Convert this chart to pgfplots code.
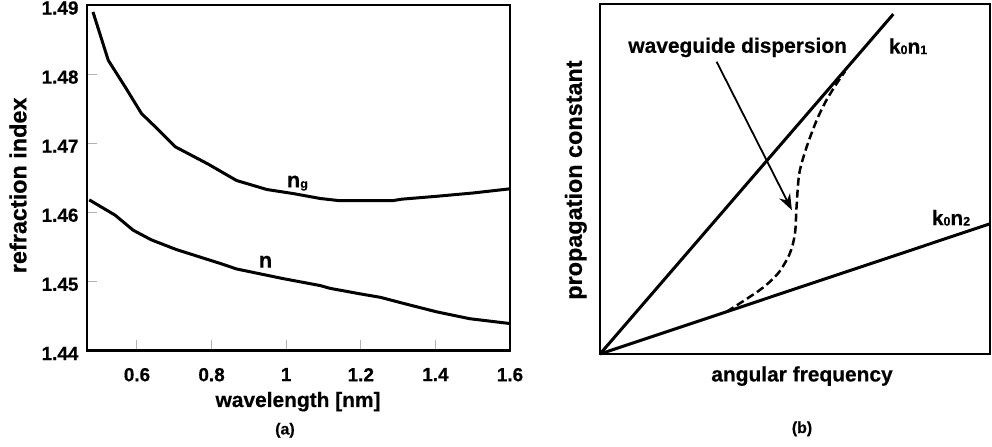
\documentclass[border=0pt]{standalone}
\usepackage{fontspec}
\setmainfont{Liberation Sans}[BoldFeatures={FakeBold=0.5}]
\usepackage{pgfplots}
\pgfplotsset{compat=1.18}
\usetikzlibrary{arrows.meta}
\newcommand{\sub}[1]{\raisebox{-0.5bp}{\fontsize{12.5}{12.5}\selectfont #1}}
\begin{document}
\begin{tikzpicture}
\useasboundingbox (0,0) rectangle (992bp,447bp);
% ---------- panel (a)
\begin{axis}[
  at={(87bp,96.5bp)}, anchor=south west, scale only axis,
  width=423bp, height=345.5bp,
  xmin=0.466, xmax=1.6, ymin=1.44, ymax=1.49,
  xtick={0.6,0.8,1,1.2,1.4,1.6},
  ytick={1.44,1.45,1.46,1.47,1.48,1.49},
  yticklabel style={/pgf/number format/fixed,/pgf/number format/fixed zerofill,/pgf/number format/precision=2, xshift=-5bp, yshift=-3bp},
  /pgf/number format/assume math mode=true,
  xtick pos=lower, ytick pos=left,
  tick align=inside,
  major tick length=10bp,
  tick style={gray!60, line width=1bp},
  axis line style={line width=2.5bp, black},
  ticklabel style={font=\bfseries\fontsize{19}{19}\selectfont},
  xticklabel style={yshift=-14bp},
  xlabel={\bfseries wavelength [nm]},
  ylabel={\bfseries refraction index},
  xlabel style={font=\fontsize{21}{21}\selectfont, at={(axis description cs:0.499,-0.148)}, anchor=center},
  ylabel style={font=\fontsize{23.5}{23.5}\selectfont, at={(axis description cs:-0.163,0.478)}, anchor=center},
  clip=false,
]
\addplot[black, line width=3bp] coordinates {
 (0.482,1.4890) (0.523,1.4820) (0.570,1.4780) (0.612,1.4743) (0.660,1.4718) (0.702,1.4695)
 (0.790,1.4670) (0.867,1.4646) (0.948,1.4633) (1.020,1.4627) (1.091,1.4620) (1.140,1.4617)
 (1.200,1.4617) (1.287,1.4617) (1.310,1.4619) (1.400,1.4623) (1.502,1.4628) (1.600,1.4634)};
\addplot[black, line width=3bp] coordinates {
 (0.472,1.4618) (0.541,1.4596) (0.590,1.4574) (0.639,1.4560) (0.706,1.4546) (0.823,1.4526)
 (0.867,1.4518) (0.992,1.4504) (1.091,1.4494) (1.117,1.4490) (1.198,1.4482) (1.252,1.4477)
 (1.330,1.4466) (1.403,1.4456) (1.492,1.4446) (1.600,1.4439)};
\node[anchor=base, font=\bfseries\fontsize{22}{22}\selectfont] at (axis cs:1.030,1.4636) {n\sub{g}};
\node[anchor=base, font=\bfseries\fontsize{22}{22}\selectfont] at (axis cs:0.9446,1.4520) {n};
\node[anchor=center, font=\bfseries\fontsize{16}{16}\selectfont] at (axis description cs:0.468,-0.231) {(a)};
\end{axis}
% ---------- panel (b)
\begin{axis}[
  at={(600bp,93bp)}, anchor=south west, scale only axis,
  width=390bp, height=350bp,
  xmin=0, xmax=1, ymin=0, ymax=1,
  xtick=\empty, ytick=\empty,
  axis line style={line width=2.5bp, black},
  xlabel={\bfseries angular frequency},
  ylabel={\bfseries propagation constant},
  xlabel style={font=\fontsize{21}{21}\selectfont, at={(axis description cs:0.518,-0.063)}, anchor=center},
  ylabel style={font=\fontsize{23.5}{23.5}\selectfont, at={(axis description cs:-0.062,0.497)}, anchor=center},
  clip=false,
]
\addplot[black, line width=3bp] coordinates {(0,0) (0.752,0.971)};
\addplot[black, line width=3bp] coordinates {(0,0) (1,0.372)};
\addplot[black, line width=2.5bp, dash pattern=on 8bp off 4bp, smooth] coordinates {
 (0.325,0.121) (0.410,0.183) (0.457,0.231) (0.487,0.288) (0.500,0.345) (0.504,0.421)
 (0.511,0.516) (0.530,0.592) (0.556,0.669) (0.581,0.726) (0.607,0.773) (0.628,0.807)};
\addplot[black, line width=1.8bp, -{Stealth[length=16bp,width=12bp]}] coordinates {(0.299,0.835) (0.492,0.411)};
\node[anchor=center, font=\bfseries\fontsize{21}{21}\selectfont] at (axis cs:0.353,0.876) {waveguide dispersion};
\node[anchor=center, font=\bfseries\fontsize{21}{21}\selectfont] at (axis cs:0.790,0.879) {k\sub{0}n\sub{1}};
\node[anchor=center, font=\bfseries\fontsize{21}{21}\selectfont] at (axis cs:0.900,0.389) {k\sub{0}n\sub{2}};
\node[anchor=center, font=\bfseries\fontsize{16}{16}\selectfont] at (axis description cs:0.518,-0.214) {(b)};
\end{axis}
\end{tikzpicture}
\end{document}
